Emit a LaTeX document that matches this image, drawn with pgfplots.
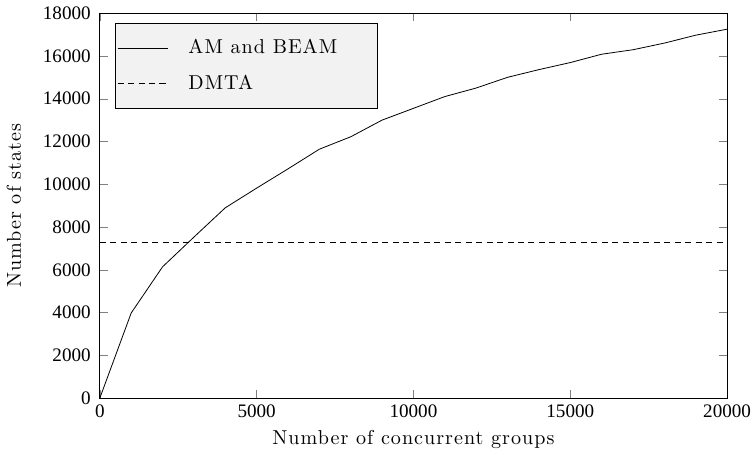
\documentclass[border=0pt]{standalone}
\usepackage{fontspec}
\usepackage{pgfplots}
\pgfplotsset{compat=1.18}
\newfontfamily\spaced{Latin Modern Roman}[LetterSpace=5.0]
\newfontfamily\numberfont{Liberation Serif}
\begin{document}
\begin{tikzpicture}
\begin{axis}[
  width=312pt, height=191.5pt,
  scale only axis,
  xmin=0, xmax=20000, ymin=0, ymax=18000,
  xtick={0,5000,10000,15000,20000},
  ytick={0,2000,...,18000},
  scaled ticks=false,
  /pgf/number format/1000 sep={},
  /pgf/number format/assume math mode=true,
  tick label style={font=\numberfont\fontsize{9.5}{11}\selectfont},
  yticklabel style={xshift=-1pt},
  xticklabel style={inner xsep=1.5pt},
  tick align=inside,
  major tick length=4pt,
  xlabel={\spaced Number of concurrent groups},
  ylabel={\spaced Number of states},
  xlabel style={yshift=1pt},
  ylabel style={yshift=4pt},
  legend style={at={(0.024,0.975)}, anchor=north west, fill=gray!10, draw=black,
    inner xsep=1pt, inner ysep=6pt, row sep=5pt,
    nodes={inner xsep=10pt, font=\spaced}},
  legend cell align=left,
  legend image code/.code={\draw[#1] (0pt,0pt) -- (25pt,0pt);},
]
\addplot[black, thin] coordinates {
  (0,0) (1000,3980) (2000,6140) (3000,7530) (4000,8900) (5000,9820)
  (6000,10720) (7000,11640) (8000,12220) (9000,13000) (10000,13550)
  (11000,14100) (12000,14500) (13000,15000) (14000,15360) (15000,15690)
  (16000,16080) (17000,16290) (18000,16600) (19000,16970) (20000,17250)
};
\addlegendentry{AM and BEAM\rule{9pt}{0pt}}
\addplot[black, thin, dash pattern=on 3pt off 2.2pt] coordinates {(0,7300) (20000,7300)};
\addlegendentry{DMTA}
\end{axis}
\end{tikzpicture}
\end{document}
